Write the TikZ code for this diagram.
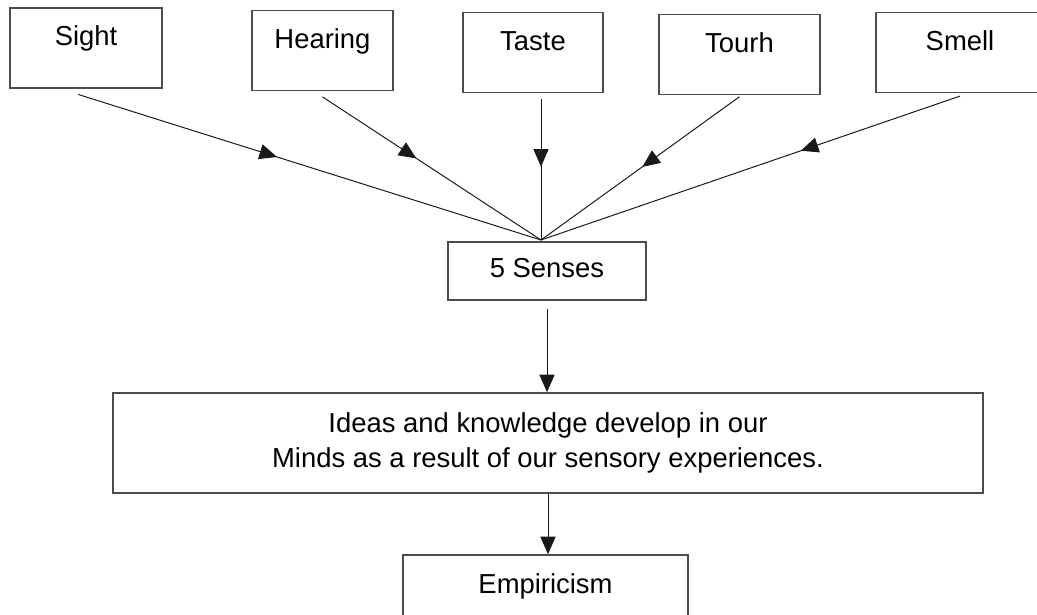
\documentclass[tikz,border=0pt]{standalone}
\usepackage{fontspec}
\setmainfont{Liberation Sans}
\usetikzlibrary{arrows.meta,decorations.markings}

\begin{document}
\begin{tikzpicture}[x=0.025cm, y=-0.025cm,
                every node/.style = {font=\fontsize{19.5pt}{25pt}\selectfont},
                box/.style = {draw=black!70, line width=1.1pt, rectangle},
                sense/.style = {box, inner sep=0pt, minimum height=2cm, text height=0.95cm, text depth=1.05cm},
                link/.style = {draw=black!90, line width=0.7pt},
                tip/.style = {-{Triangle[length=0.44cm, width=0.38cm]}},
                midarrow/.style = {postaction={decorate, decoration={markings,
                    mark=at position #1 with {\arrow{Triangle[length=0.44cm, width=0.38cm]}}}}}]
                \useasboundingbox (0,0) rectangle (1037,615);

                % the five senses
                \node (sight)   [sense, minimum width=3.8cm]   at (86,48)    {Sight};
                \node (hearing) [sense, minimum width=3.525cm] at (322.5,50.5) {Hearing};
                \node (taste)   [sense, minimum width=3.5cm]   at (533,52.5)  {Taste};
                \node (tourh)   [sense, minimum width=4.025cm] at (739.5,54.5) {Tourh};
                \node (smell)   [sense, minimum width=4.2cm]   at (960,52.5)  {Smell};

                \coordinate (hub) at (541,240);

                \node (senses) [box, inner sep=0pt, minimum width=4.95cm, minimum height=1.45cm,
                                text height=0.9cm, text depth=0.55cm] at (547,271) {5 Senses};
                \node (ideas)  [box, align=center, minimum width=21.75cm, minimum height=2.5cm] at (548,443)
                                {Ideas and knowledge develop in our\\Minds as a result of our sensory experiences.};
                \node (empiricism) [sense, minimum width=7.125cm] at (545.5,595) {Empiricism};

                % into the 5 senses
                \draw [link, midarrow=0.43] ([yshift=-4pt]sight.south -| 78,0) -- (hub);
                \draw [link, midarrow=0.43] ([yshift=-4pt]hearing.south) -- (hub);
                \draw [link, midarrow=0.48] ([yshift=-4pt]taste.south -| hub) -- (hub);
                \draw [link, midarrow=0.49] ([yshift=-1pt]tourh.south) -- (hub);
                \draw [link, midarrow=0.38] ([yshift=-2pt]smell.south) -- (hub);

                \draw [link, tip] ([yshift=-6pt]senses.south) -- (ideas.north -| senses.south);
                \draw [link, tip] (ideas.south) -- (ideas.south |- empiricism.north);
            \end{tikzpicture}
\end{document}
